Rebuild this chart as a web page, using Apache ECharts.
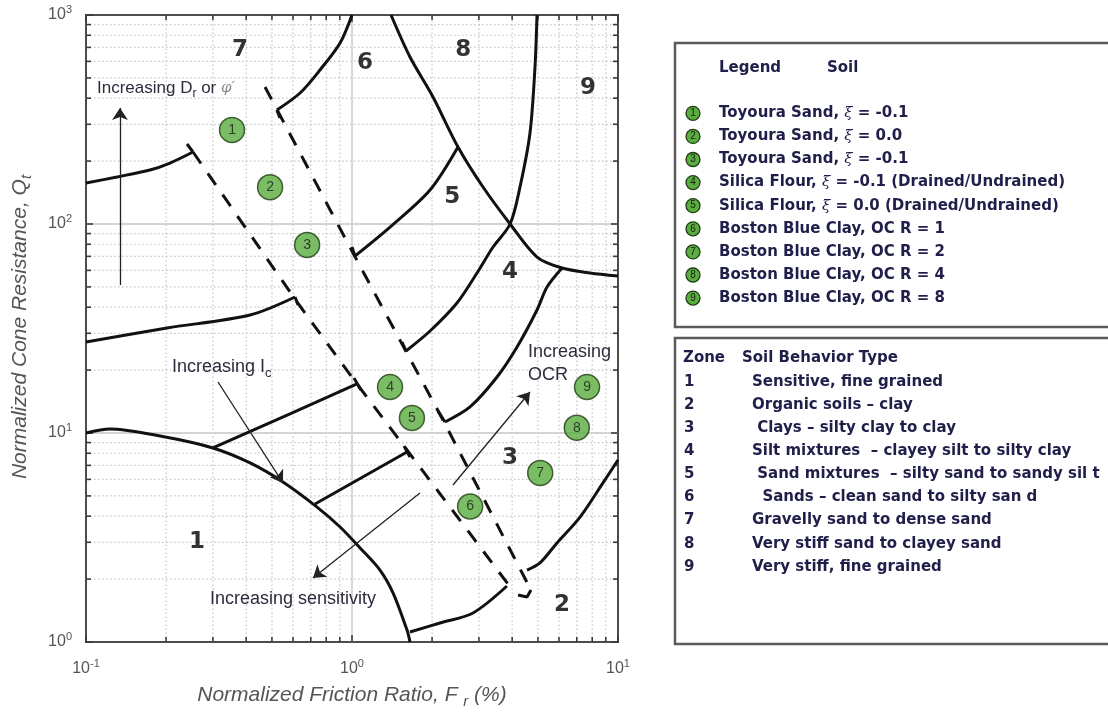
<!DOCTYPE html>
<html><head><meta charset="utf-8">
<script src="https://cdn.jsdelivr.net/npm/echarts@6/dist/echarts.min.js"></script>
<style>html,body{margin:0;padding:0;background:#fff}#c{width:1108px;height:712px}</style>
</head><body><div id="c"></div>
<script>
// ---- axis ticks ----
const xMajorTicks = [0.1, 1, 10];
const yMajorTicks = [1, 10, 100, 1000];
const xMinorTicks = [0.2,0.3,0.4,0.5,0.6,0.7,0.8,0.9,2,3,4,5,6,7,8,9];
const yMinorTicks = [2,3,4,5,6,7,8,9,20,30,40,50,60,70,80,90,200,300,400,500,600,700,800,900];

// ---- zone boundaries (Fr %, Qt) ----
const bZone1Top   = [[0.1,10],[0.123,10.45],[0.19,9.67],[0.30,8.48],[0.414,7.19],[0.55,5.83],[0.739,4.42],[0.902,3.55],[1.072,2.82],[1.274,2.21],[1.426,1.72],[1.61,1.14],[1.652,1.0]];
const bZone2Top   = [[1.652,1.116],[2.142,1.233],[2.85,1.377],[3.824,1.853]];
const bZone2Right = [[4.55,2.21],[5.09,2.39],[5.90,2.98],[7.20,3.96],[8.78,5.77],[10,7.43]];
const bZone3Top   = [[2.237,11.29],[2.777,13.32],[3.509,18.53],[4.173,25.79],[4.96,38.78],[5.41,49.96],[6.16,61.6]];
const bZone9Low   = [[1.402,1000],[1.652,629.6],[2.016,405.3],[2.503,233.6],[3.108,150.3],[3.93,100],[4.96,69.5],[6.16,61.6],[7.85,58.3],[10,56.4]];
const bZone9Left  = [[1.596,24.68],[1.965,30.76],[2.481,41.88],[2.951,58.3],[3.39,77.6],[3.93,100],[4.281,150.3],[4.668,272.5],[4.875,563.9],[4.96,1000]];
const bZone5Low   = [[1.026,70.3],[1.39,96.7],[1.965,145.5],[2.503,233.6]];
const bZone7Right = [[1.0,1000],[0.902,734.5],[0.758,545.6],[0.638,423.5],[0.522,351.2]];
const bZone7Low   = [[0.1,157.1],[0.1308,167.9],[0.174,181.3],[0.2069,195.8],[0.2525,221.1]];
const bZone6Low   = [[0.1,27.25],[0.2016,31.8],[0.414,36.7],[0.6107,44.74]];
const bZone4Left  = [[0.30,8.48],[0.5847,12.33],[1.044,17.16]];
const bZone3Left  = [[0.726,4.575],[1.61,8.11]];
const boundaryTicks = [
  [[2.105,12.74],[2.237,11.29]],
  [[1.542,27.25],[1.596,24.68]],
  [[1.0,77.6],[1.026,70.3]],
  [[0.522,351.2],[0.536,321.5]],
  [[0.2525,221.1],[0.2397,241.4]],
  [[0.6107,44.74],[0.6266,40.97]],
  [[1.017,18.33],[1.081,16.06]],
  [[1.569,8.67],[1.652,7.68]],
  [[4.708,1.773],[4.55,1.641],[4.209,1.678]]
];
const dashLeft  = [[0.2525,221.1],[0.621,42.36],[1.044,17.16],[1.61,8.29],[3.858,1.894]];
const dashRight = [[0.471,452.4],[1.009,72.6],[2.198,11.54],[4.708,1.773]];

// ---- soil test points ----
const soilIds = ['1','2','3','4','5','6','7','8','9'];
const soilPoints = [[0.354,282],[0.492,150],[0.678,79.4],[1.39,16.6],[1.68,11.8],[2.78,4.45],[5.1,6.44],[7.0,10.6],[7.65,16.6]];

// ---- zone labels ----
const zoneIds = ['1','2','3','4','5','6','7','8','9'];
const zoneLabelPos = [[0.2615,3.01],[6.16,1.503],[3.93,7.59],[3.93,58.9],[2.38,134],[1.12,589],[0.379,681],[2.62,680],[7.71,448]];

// ---- annotation arrows ----
const arrows = [
  [[0.1342,51.06],[0.1342,358.9]],
  [[0.3135,17.54],[0.550,5.77]],
  [[1.801,5.164],[0.7136,2.024]],
  [[2.397,5.64],[4.668,15.71]]
];

// ---- legend / table text ----
const legendItems = ['Toyoura Sand, ξ = -0.1','Toyoura Sand, ξ = 0.0','Toyoura Sand, ξ = -0.1',
  'Silica Flour, ξ = -0.1 (Drained/Undrained)','Silica Flour, ξ = 0.0 (Drained/Undrained)',
  'Boston Blue Clay, OC R = 1','Boston Blue Clay, OC R = 2','Boston Blue Clay, OC R = 4','Boston Blue Clay, OC R = 8'];
const zoneTypes = ['Sensitive, fine grained','Organic soils – clay',' Clays – silty clay to clay',
  'Silt mixtures  – clayey silt to silty clay',' Sand mixtures  – silty sand to sandy sil t',
  '  Sands – clean sand to silty san d','Gravelly sand to dense sand','Very stiff sand to clayey sand','Very stiff, fine grained'];

const FONT = '"Liberation Sans", Arial, sans-serif';
const PFONT = '"DejaVu Sans", Verdana, sans-serif';
const NAVY = '#1f1f4a';

function curve(data, smooth){
  return {type:'line', data, symbol:'none', showSymbol:false, smooth: smooth ? 0.3 : false,
    lineStyle:{color:'#111', width:3}, z:5, silent:true, animation:false};
}
function dashed(data){
  return {type:'line', data, symbol:'none', showSymbol:false,
    lineStyle:{color:'#111', width:3, type:[14,12]}, z:5, silent:true, animation:false};
}
function gridSeries(values, isX, major){
  return {type:'custom', silent:true, animation:false, z:1, clip:false,
    data: values.map(v => isX ? [v, 1] : [0.1, v]),
    renderItem: (params, api) => {
      const v = api.value(isX ? 0 : 1);
      const a = isX ? api.coord([v, 1]) : api.coord([0.1, v]);
      const b = isX ? api.coord([v, 1000]) : api.coord([10, v]);
      const L = major ? 7 : 5;
      const ch = [];
      const edge = major && (v === values[0] || v === values[values.length-1]);
      if (!edge) ch.push({type:'line', shape:{x1:a[0],y1:a[1],x2:b[0],y2:b[1]},
        style: major ? {stroke:'#d4d4d4', lineWidth:1.8} : {stroke:'#c4c4c4', lineWidth:1.2, lineDash:[1.5,2.5]}});
      const ts = {stroke:'#3a3a3a', lineWidth:1.6};
      if (isX) {
        ch.push({type:'line', shape:{x1:a[0],y1:a[1],x2:a[0],y2:a[1]-L}, style:ts});
        ch.push({type:'line', shape:{x1:b[0],y1:b[1],x2:b[0],y2:b[1]+L}, style:ts});
      } else {
        ch.push({type:'line', shape:{x1:a[0],y1:a[1],x2:a[0]+L,y2:a[1]}, style:ts});
        ch.push({type:'line', shape:{x1:b[0],y1:b[1],x2:b[0]-L,y2:b[1]}, style:ts});
      }
      return {type:'group', children: ch};
    }};
}

const expLabel = {
  formatter: v => '{b|10}{s|' + Math.round(Math.log10(v)) + '}',
  rich: {
    b:{fontSize:16, color:'#555', fontFamily:FONT},
    s:{fontSize:11, color:'#555', fontFamily:FONT, padding:[0,0,10,0]}
  }
};

const series = [
  gridSeries(xMinorTicks, true, false), gridSeries(yMinorTicks, false, false),
  gridSeries(xMajorTicks, true, true), gridSeries(yMajorTicks, false, true),
  curve(bZone1Top, true), curve(bZone2Top, true), curve(bZone2Right, true), curve(bZone3Top, true),
  curve(bZone9Low, true), curve(bZone9Left, true), curve(bZone5Low, true), curve(bZone7Right, true),
  curve(bZone7Low, true), curve(bZone6Low, true), curve(bZone4Left, false), curve(bZone3Left, false),
  ...boundaryTicks.map(t => curve(t, false)),
  dashed(dashLeft), dashed(dashRight),
  {type:'lines', coordinateSystem:'cartesian2d', silent:true, animation:false, z:6,
   data: arrows.map(a => ({coords:a})), symbol:['none','arrow'], symbolSize:12,
   lineStyle:{color:'#222', width:1.3, opacity:1, curveness:0}},
  {type:'scatter', silent:true, animation:false, z:8,
   data: soilPoints.map((p,i) => ({value:p, name:soilIds[i]})),
   symbol:'circle', symbolSize:25,
   itemStyle:{color:'#5aad3f', borderColor:'#1f3d14', borderWidth:1.5},
   label:{show:true, position:'inside', formatter:'{b}', color:'#1a1a1a', fontSize:14, fontFamily:FONT}},
  {type:'scatter', silent:true, animation:false, z:8,
   data: zoneLabelPos.map((p,i) => ({value:p, name:zoneIds[i]})),
   symbol:'circle', symbolSize:1, itemStyle:{color:'rgba(0,0,0,0)'},
   label:{show:true, position:'inside', formatter:'{b}', color:'#000', fontSize:23, fontWeight:'bold', fontFamily:PFONT}}
];

// ---- graphic: annotations, titles, panels ----
const g = [];
const ANN = '#2c2c3c';
const annStyle = {fontSize:18, fill:ANN, fontFamily:FONT};
g.push({type:'text', x:97, y:88, z:100, style:{text:'{a|Increasing D}{sub|r}{a| or }{p|φ′}', verticalAlign:'middle',
  rich:{a:{fontSize:17, fill:ANN, fontFamily:FONT}, sub:{fontSize:12, fill:ANN, fontFamily:FONT, padding:[11,0,0,0]},
        p:{fontSize:15, fill:'#888', fontStyle:'italic', fontFamily:'"DejaVu Serif", serif'}}}});
g.push({type:'text', x:172, y:367, z:100, style:{text:'{a|Increasing I}{sub|c}', verticalAlign:'middle',
  rich:{a:{fontSize:18, fill:ANN, fontFamily:FONT}, sub:{fontSize:13, fill:ANN, fontFamily:FONT, padding:[12,0,0,0]}}}});
g.push({type:'text', x:210, y:599, z:100, style:Object.assign({text:'Increasing sensitivity', verticalAlign:'middle'}, annStyle)});
g.push({type:'text', x:528, y:352, z:100, style:Object.assign({text:'Increasing', verticalAlign:'middle'}, annStyle)});
g.push({type:'text', x:528, y:375, z:100, style:Object.assign({text:'OCR', verticalAlign:'middle'}, annStyle)});
// axis titles
g.push({type:'text', x:352, y:695, z:100, style:{text:'{a|Normalized Friction Ratio, F }{sub|r}{a| (%)}', align:'center', verticalAlign:'middle',
  rich:{a:{fontSize:21, fill:'#555', fontStyle:'italic', fontFamily:FONT}, sub:{fontSize:15, fill:'#555', fontStyle:'italic', fontFamily:FONT, padding:[14,0,0,0]}}}});
g.push({type:'text', x:20, y:327, rotation:Math.PI/2, z:100, style:{text:'{a|Normalized Cone Resistance, Q}{sub|t}', align:'center', verticalAlign:'middle',
  rich:{a:{fontSize:21, fill:'#555', fontStyle:'italic', fontFamily:FONT}, sub:{fontSize:15, fill:'#555', fontStyle:'italic', fontFamily:FONT, padding:[14,0,0,0]}}}});
// panels
g.push({type:'rect', shape:{x:675, y:43, width:445, height:284}, style:{fill:'#fff', stroke:'#5a5a5a', lineWidth:2.5}, z:50});
g.push({type:'rect', shape:{x:675, y:338, width:445, height:306}, style:{fill:'#fff', stroke:'#5a5a5a', lineWidth:2.5}, z:50});
const PS = 15;
const pStyle = {fontSize:PS, fontWeight:'bold', fill:NAVY, fontFamily:PFONT, verticalAlign:'middle'};
g.push({type:'text', x:719, y:68, z:60, style:Object.assign({text:'Legend'}, pStyle)});
g.push({type:'text', x:827, y:68, z:60, style:Object.assign({text:'Soil'}, pStyle)});
legendItems.forEach((t,i) => {
  const y = 113.3 + i*23.1;
  g.push({type:'circle', shape:{cx:693, cy:y, r:7}, style:{fill:'#5aad3f', stroke:'#1f3d14', lineWidth:1.3}, z:60});
  g.push({type:'text', x:693, y:y, z:61, style:{text:soilIds[i], fontSize:10, fill:'#1a1a1a', fontFamily:FONT, align:'center', verticalAlign:'middle'}});
  const parts = t.split('ξ');
  const txt = parts.length > 1 ? '{n|' + parts[0] + '}{i|ξ}{n|' + parts[1] + '}' : '{n|' + t + '}';
  g.push({type:'text', x:719, y:y, z:61, style:{text:txt, verticalAlign:'middle',
    rich:{n:{fontSize:PS, fontWeight:'bold', fill:NAVY, fontFamily:PFONT}, i:{fontSize:PS, fontStyle:'italic', fill:NAVY, fontFamily:'"DejaVu Serif", serif'}}}});
});
g.push({type:'text', x:683, y:358, z:60, style:Object.assign({text:'Zone'}, pStyle)});
g.push({type:'text', x:742, y:358, z:60, style:Object.assign({text:'Soil Behavior Type'}, pStyle)});
zoneTypes.forEach((t,i) => {
  const y = 381.7 + i*23.15;
  g.push({type:'text', x:684, y:y, z:60, style:Object.assign({text:zoneIds[i]}, pStyle)});
  g.push({type:'text', x:752, y:y, z:60, style:Object.assign({text:t}, pStyle)});
});

const chart = echarts.init(document.getElementById('c'));
chart.setOption({
  animation:false,
  backgroundColor:'#fff',
  grid:{left:86, right:490, top:15, bottom:70, show:true, borderColor:'#4d4d4d', borderWidth:2, backgroundColor:'#fff'},
  xAxis:{type:'log', logBase:10, min:0.1, max:10, axisLine:{show:false}, axisTick:{show:false}, splitLine:{show:false},
    axisLabel:Object.assign({margin:16}, expLabel)},
  yAxis:{type:'log', logBase:10, min:1, max:1000, axisLine:{show:false}, axisTick:{show:false}, splitLine:{show:false},
    axisLabel:Object.assign({margin:14}, expLabel)},
  series,
  graphic: g
});
</script></body></html>
